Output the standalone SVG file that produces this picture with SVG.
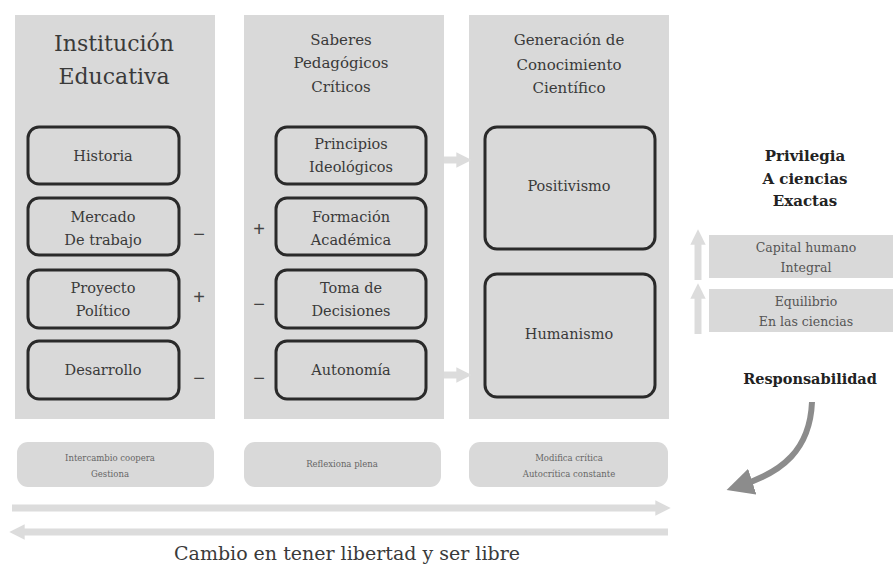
<svg xmlns="http://www.w3.org/2000/svg" width="893" height="564" viewBox="0 0 893 564">
<defs>
<style>
.panel{fill:#d9d9d9}
.box{fill:#d9d9d9;stroke:#2a2a2a;stroke-width:3}
.t{font-family:'DejaVu Serif',serif;fill:#3a3a3a;text-anchor:middle}
.big{font-size:22px}
.mid{font-size:14.5px}
.hd{font-size:15px}
.bold{font-weight:bold;fill:#222}
.small{font-size:12.5px;fill:#555}
.tiny{font-size:8.5px;fill:#666}
.sign{font-family:'Liberation Sans',sans-serif;font-size:20px;fill:#444;text-anchor:middle}
.lt{stroke:#dcdcdc;stroke-width:7;fill:none}
</style>
<marker id="ah" viewBox="0 0 10 10" refX="5" refY="5" markerWidth="2.2" markerHeight="2.2" orient="auto">
<path d="M0,0 L10,5 L0,10 z" fill="#dcdcdc"/>
</marker>
<marker id="dh" viewBox="0 0 10 10" refX="4" refY="5" markerWidth="4.5" markerHeight="4.5" orient="auto">
<path d="M0,0 L10,5 L0,10 z" fill="#8c8c8c"/>
</marker>
</defs>

<g id="col-institucion">
<rect class="panel" x="15" y="15" width="200" height="404"/>
<text class="t big" x="114" y="51">Institución</text>
<text class="t big" x="114" y="84">Educativa</text>
</g>
<g id="col-saberes">
<rect class="panel" x="244" y="15" width="200" height="404"/>
<text class="t hd" x="341" y="45">Saberes</text>
<text class="t hd" x="341" y="68">Pedagógicos</text>
<text class="t hd" x="341" y="92">Críticos</text>
</g>
<g id="col-generacion">
<rect class="panel" x="469" y="15" width="200" height="404"/>
<text class="t hd" x="569" y="45">Generación de</text>
<text class="t hd" x="569" y="70">Conocimiento</text>
<text class="t hd" x="569" y="93">Científico</text>
</g>

<g id="historia"><rect class="box" x="28" y="127" width="151" height="57" rx="11"/><text class="t mid" x="103" y="161">Historia</text></g>
<g id="mercado"><rect class="box" x="28" y="198" width="151" height="57" rx="11"/><text class="t mid" x="103" y="222">Mercado</text><text class="t mid" x="103" y="245">De trabajo</text></g>
<g id="proyecto"><rect class="box" x="28" y="270" width="151" height="58" rx="11"/><text class="t mid" x="103" y="293">Proyecto</text><text class="t mid" x="103" y="316">Político</text></g>
<g id="desarrollo"><rect class="box" x="28" y="341" width="151" height="58" rx="11"/><text class="t mid" x="103" y="375">Desarrollo</text></g>

<g id="principios"><rect class="box" x="276" y="127" width="150" height="57" rx="11"/><text class="t mid" x="351" y="149">Principios</text><text class="t mid" x="351" y="172">Ideológicos</text></g>
<g id="formacion"><rect class="box" x="276" y="198" width="150" height="57" rx="11"/><text class="t mid" x="351" y="222">Formación</text><text class="t mid" x="351" y="245">Académica</text></g>
<g id="toma"><rect class="box" x="276" y="270" width="150" height="58" rx="11"/><text class="t mid" x="351" y="293">Toma de</text><text class="t mid" x="351" y="316">Decisiones</text></g>
<g id="autonomia"><rect class="box" x="276" y="341" width="150" height="58" rx="11"/><text class="t mid" x="351" y="375">Autonomía</text></g>

<g id="positivismo"><rect class="box" x="485" y="127" width="170" height="122" rx="12"/><text class="t mid" x="569" y="191">Positivismo</text></g>
<g id="humanismo"><rect class="box" x="485" y="274" width="170" height="123" rx="12"/><text class="t mid" x="569" y="339">Humanismo</text></g>

<g id="signs">
<text class="sign" x="199" y="241">−</text>
<text class="sign" x="199" y="304">+</text>
<text class="sign" x="199" y="385">−</text>
<text class="sign" x="259" y="236">+</text>
<text class="sign" x="259" y="311">−</text>
<text class="sign" x="259" y="385">−</text>
</g>

<g id="privilegia">
<text class="t hd bold" x="805" y="161">Privilegia</text>
<text class="t hd bold" x="805" y="184">A ciencias</text>
<text class="t hd bold" x="805" y="206">Exactas</text>
</g>
<g id="capital"><rect class="panel" x="709" y="235" width="184" height="43"/><text class="t small" x="806" y="252">Capital humano</text><text class="t small" x="806" y="272">Integral</text></g>
<g id="equilibrio"><rect class="panel" x="709" y="289" width="184" height="43"/><text class="t small" x="806" y="306">Equilibrio</text><text class="t small" x="806" y="326">En las ciencias</text></g>
<g id="responsabilidad"><text class="t mid bold" x="810" y="384">Responsabilidad</text></g>

<g id="bottom-boxes">
<g id="intercambio"><rect class="panel" x="17" y="442" width="197" height="45" rx="11"/><text class="t tiny" x="110" y="461">Intercambio coopera</text><text class="t tiny" x="110" y="477">Gestiona</text></g>
<g id="reflexiona"><rect class="panel" x="244" y="442" width="197" height="45" rx="11"/><text class="t tiny" x="342" y="467">Reflexiona plena</text></g>
<g id="modifica"><rect class="panel" x="469" y="442" width="199" height="45" rx="11"/><text class="t tiny" x="569" y="461">Modifica crítica</text><text class="t tiny" x="569" y="477">Autocrítica constante</text></g>
</g>

<g id="connectors">
<line class="lt" x1="444" y1="160" x2="464" y2="160" marker-end="url(#ah)"/>
<line class="lt" x1="444" y1="375" x2="464" y2="375" marker-end="url(#ah)"/>
<line class="lt" x1="698" y1="280" x2="698" y2="237" marker-end="url(#ah)"/>
<line class="lt" x1="698" y1="334" x2="698" y2="291" marker-end="url(#ah)"/>
<line class="lt" x1="12" y1="508" x2="663" y2="508" marker-end="url(#ah)"/>
<line class="lt" x1="668" y1="532" x2="17" y2="532" marker-end="url(#ah)"/>
<path d="M812,402 C810,450 782,472 742,485" stroke="#8c8c8c" stroke-width="6" fill="none" marker-end="url(#dh)"/>
</g>

<g id="caption"><text class="t" x="347" y="560" style="font-size:19px">Cambio en tener libertad y ser libre</text></g>
</svg>
